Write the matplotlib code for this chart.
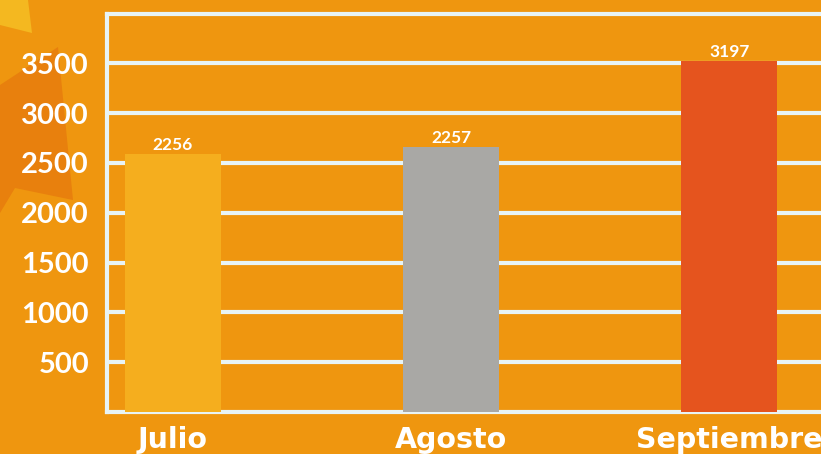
import matplotlib.pyplot as plt
from matplotlib.patches import Polygon

# data
months = ["Julio", "Agosto", "Septiembre"]
bar_heights = [2590, 2660, 3520]
value_labels = ["2256", "2257", "3197"]
bar_colors = ["#F5AE1E", "#A9A8A5", "#E5541E"]
yticks = [500, 1000, 1500, 2000, 2500, 3000, 3500]

bg = "#EF960F"
line_col = "#E8F4F6"

plt.rcParams['font.family'] = ['Lato', 'DejaVu Sans']

fig = plt.figure(figsize=(8.21, 4.54), dpi=100)
fig.patch.set_facecolor(bg)

# sun decoration in the top-left corner (figure pixels)
W, H = 821, 454
def px(pts):
    return [(x / W, 1 - y / H) for x, y in pts]

fig.patches.append(Polygon(px([(0, 85), (58, 47), (73, 200), (15, 188), (0, 213)]),
                           closed=True, facecolor="#E8800D", edgecolor="none",
                           transform=fig.transFigure, zorder=-5))
fig.patches.append(Polygon(px([(0, 0), (28, 0), (32, 33), (0, 25)]),
                           closed=True, facecolor="#F4B820", edgecolor="none",
                           transform=fig.transFigure, zorder=-5))

ax = fig.add_axes([107 / W, 1 - 412 / H, 1 - 107 / W, (412 - 13.5) / H])
ax.set_facecolor("none")

x = range(len(months))
bars = ax.bar(x, bar_heights, width=0.345, color=bar_colors, zorder=3)

for b, lab in zip(bars, value_labels):
    ax.text(b.get_x() + b.get_width() / 2, b.get_height() + 10, lab,
            ha="center", va="bottom", color="white", fontsize=12.5,
            fontweight="bold", zorder=4)

ax.set_xlim(-0.237, 2.33)
ax.set_ylim(0, 4000)
ax.set_yticks(yticks)
ax.set_yticklabels([str(v) for v in yticks])
ax.set_xticks(list(x))
ax.set_xticklabels(months, family=['DejaVu Sans'])

ax.tick_params(axis="y", length=0, pad=13, labelsize=21, labelcolor="white")
ax.tick_params(axis="x", length=0, pad=10, labelsize=20.5, labelcolor="white")
for t in ax.get_yticklabels():
    t.set_fontweight("bold")
for t in ax.get_xticklabels():
    t.set_fontweight("bold")

ax.yaxis.grid(True, color=line_col, linewidth=3, zorder=1)
ax.set_axisbelow(True)

for side in ["left", "bottom", "top"]:
    ax.spines[side].set_color(line_col)
    ax.spines[side].set_linewidth(3)
ax.spines["right"].set_visible(False)

fig.savefig("out.png", dpi=100, facecolor=bg)
